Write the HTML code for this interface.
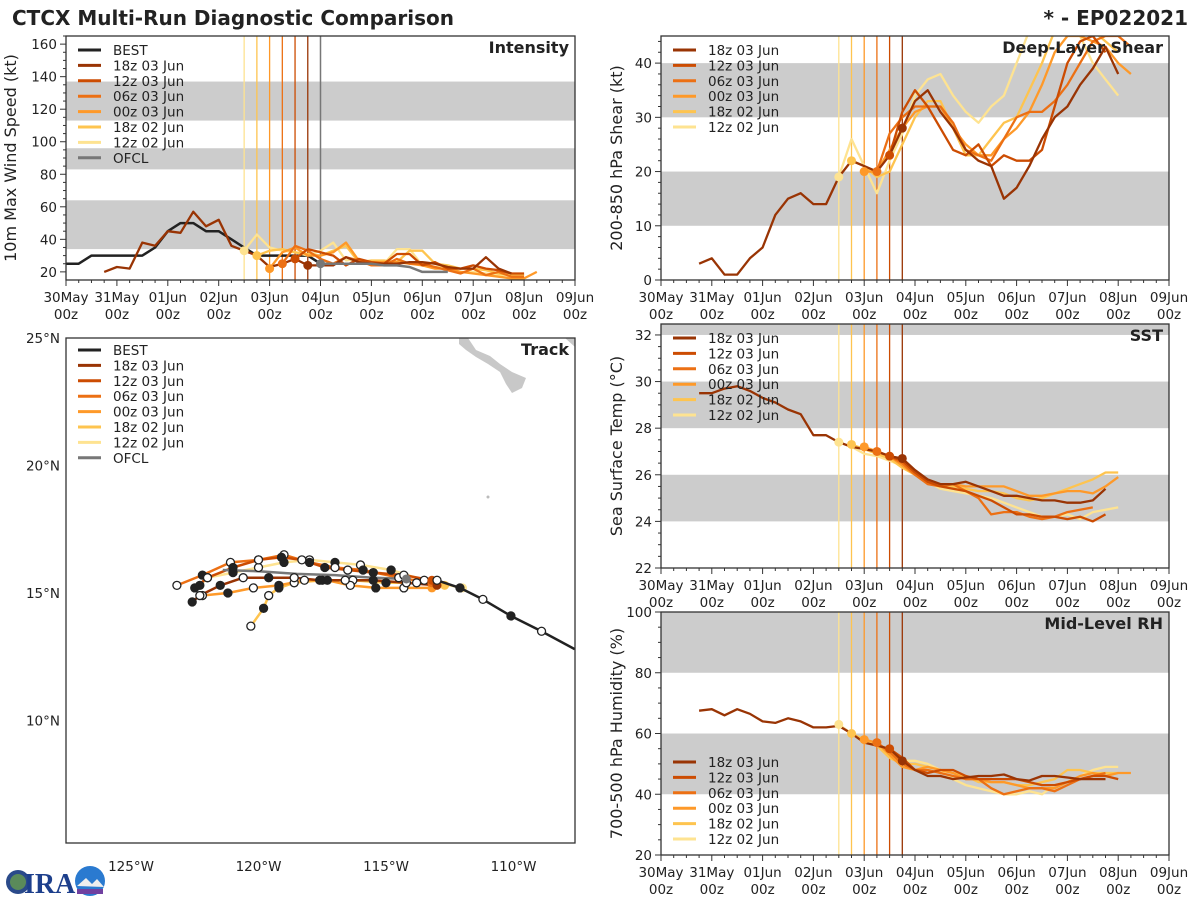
<!DOCTYPE html>
<html><head><meta charset="utf-8"><style>
html,body{margin:0;padding:0;background:#fff;}
svg{display:block;font-family:"DejaVu Sans","Liberation Sans",sans-serif;}
</style></head><body>
<svg id="chart" width="1200" height="900" viewBox="0 0 1200 900" xmlns="http://www.w3.org/2000/svg">
<rect width="1200" height="900" fill="#fff"/>
<text x="12" y="25" font-size="20" font-weight="bold" fill="#222">CTCX Multi-Run Diagnostic Comparison</text>
<text x="1188" y="25" font-size="20" font-weight="bold" fill="#222" text-anchor="end">* - EP022021</text>
<g id="layer"></g>
<g>
<circle cx="18" cy="882" r="12" fill="#2a4a8a"/><circle cx="18" cy="882" r="8" fill="#5a8a5a"/>
<text x="24" y="893" font-size="28" font-weight="bold" fill="#1d3f8c" font-family="Liberation Serif,serif">IRA</text>
<circle cx="90" cy="881" r="15" fill="#2a7ad0"/><path d="M77 886 L86 878 L92 884 L97 879 L104 887 Z" fill="#eee"/><rect x="77" y="889" width="26" height="5" fill="#7040a0"/>
</g>
</svg>
<script>
// ---------- data ----------
const runNames = ["18z 03 Jun","12z 03 Jun","06z 03 Jun","00z 03 Jun","18z 02 Jun","12z 02 Jun"];
const runInit = [114,108,102,96,90,84];
const dayLabels = ["30May","31May","01Jun","02Jun","03Jun","04Jun","05Jun","06Jun","07Jun","08Jun","09Jun"];
// Intensity (kt)
const bestStart = 0;
const bestVmax = [25,25,30,30,30,30,30,35,45,50,50,45,45,40,35,30,30,30,30,30,25];
const ofclStart = 120;
const ofclVmax = [25,25,25,25,25,24,24,23,20,20,20];
const vmaxStart = [18,108,102,96,90,84];
const vmax18z03 = [20,23,22,38,36,45,44,57,48,52,36,33,30,23,25,28,24,24,24,29,26,25,25,25,26,26,25,23,22,22,29,22,19];
const vmax12z03 = [28,34,32,30,24,28,26,25,31,31,24,26,22,22,24,22,21,19,19];
const vmax06z03 = [25,36,33,28,25,29,27,24,24,28,25,25,23,21,19,22,18,20,17,17];
const vmax00z03 = [22,32,35,30,30,32,38,27,26,26,26,25,24,22,22,20,19,18,17,16,16,20];
const vmax18z02 = [30,33,34,32,31,30,33,36,26,27,27,26,33,33,25,24,22,22,21,19,18,18];
const vmax12z02 = [33,43,35,33,32,30,33,38,27,28,25,25,34,34,24,23,23,20,20,19,18,18];
// Shear (kt)
const shearStart = [18,108,102,96,90,84];
const shear18z03 = [3,4,1,1,4,6,12,15,16,14,14,19,22,21,20,23,28,33,35,31,28,24,22,21,15,17,21,26,30,32,36,39,43,38];
const shear12z03 = [23,31,35,32,28,24,23,25,21,23,22,22,24,32,40,44,45,42];
const shear06z03 = [20,27,30,32,32,32,29,24,23,22,26,30,31,31,33,36,40,44,45,45,43];
const shear00z03 = [20,20,24,28,31,32,32,28,25,23,23,26,28,31,36,42,45,45,44,43,40,38];
const shear18z02 = [22,21,19,20,25,30,33,33,28,23,23,26,29,30,35,40,46,48,48,46,44,42];
const shear12z02 = [19,26,21,16,22,27,34,37,38,34,31,29,32,34,40,46,48,50,48,45,40,37,34];
// SST (C)
const sstStart = [18,108,102,96,90,84];
const sst18z03 = [29.5,29.5,29.7,29.8,29.6,29.3,29.1,28.8,28.6,27.7,27.7,27.4,27.2,27.1,27.0,26.8,26.7,26.2,25.8,25.6,25.6,25.7,25.5,25.3,25.1,25.1,25.0,24.9,24.9,24.8,24.8,24.9,25.4];
const sst12z03 = [26.8,26.6,26.1,25.7,25.5,25.4,25.3,25.1,24.9,24.6,24.3,24.3,24.2,24.2,24.1,24.2,24.0,24.3];
const sst06z03 = [27.0,26.8,26.5,26.0,25.6,25.5,25.6,25.3,25.0,24.3,24.4,24.4,24.2,24.1,24.2,24.4,24.5,24.6];
const sst00z03 = [27.2,27.0,26.8,26.4,26.0,25.7,25.6,25.6,25.5,25.5,25.5,25.5,25.3,25.1,25.1,25.2,25.3,25.3,25.2,25.5,25.9];
const sst18z02 = [27.3,27.1,26.9,26.7,26.3,26.0,25.7,25.6,25.5,25.4,25.3,25.3,25.2,25.0,24.9,25.0,25.2,25.4,25.6,25.8,26.1,26.1];
const sst12z02 = [27.4,27.2,26.9,26.8,26.6,26.4,26.1,25.7,25.4,25.3,25.2,25.1,25.0,24.8,24.6,24.4,24.2,24.2,24.3,24.1,24.4,24.5,24.6];
// RH (%)
const rhStart = [18,108,102,96,90,84];
const rh18z03 = [67.5,68,66,68,66.5,64,63.5,65,64,62,62,62.5,60,57,56,55,51,48,46,46,45,45.5,46,46,46.5,45,44.5,46,46,45.5,45,45,45];
const rh12z03 = [55,52,48,47,48,48,46,45,45,45,45,44,43,43,44,45,46,46,45];
const rh06z03 = [57,54,50,48,48,47,46,45,45,42,40,41,42,42,41,43,45,46,47];
const rh00z03 = [58,57,53,49,48,49,48,47,45,45,44,44,43,42,42,42,44,46,47,46,47,47];
const rh18z02 = [60,58,56,52,50,50,49,48,47,46,44,44,44,43,43,44,45,48,48,47,47,47];
const rh12z02 = [63,60,57,56,53,51,51,50,48,45,43,42,41,40,40,41,40,43,44,46,48,49,49];
// Track (deg W, deg N)
const bestLon = [107.6,108.9,110.1,111.2,112.1,113.0];
const bestLat = [12.8,13.5,14.1,14.75,15.2,15.5];
const ofclLon = [114.2,115.5,117.0,118.5,120.0,121.4];
const ofclLat = [15.55,15.6,15.7,15.75,15.85,15.9];
const trk18z03Lon = [113.0,114.2,115.5,116.6,117.6,118.6,119.6,120.6,121.5,122.3,122.6];
const trk18z03Lat = [15.3,15.4,15.5,15.5,15.5,15.6,15.6,15.6,15.3,14.9,14.65];
const trk12z03Lon = [113.2,114.3,115.5,116.5,117.4,118.3,119.1,120.0,121.0,122.0,122.5];
const trk12z03Lat = [15.5,15.7,15.8,15.9,16.0,16.3,16.4,16.3,16.0,15.6,15.2];
const trk06z03Lon = [113.2,114.5,115.9,117.0,118.0,119.0,120.0,121.1,122.2,123.2];
const trk06z03Lat = [15.4,15.6,15.9,16.0,16.2,16.5,16.3,16.2,15.7,15.3];
const trk00z03Lon = [113.2,114.3,115.4,116.4,117.3,118.2,119.2,120.2,121.2,122.2];
const trk00z03Lat = [15.2,15.2,15.2,15.3,15.5,15.5,15.3,15.2,15.0,14.9];
const trk18z02Lon = [112.7,113.8,115.0,116.3,117.5,118.6,119.2,119.6,119.8,120.3];
const trk18z02Lat = [15.3,15.4,15.4,15.5,15.5,15.4,15.2,14.9,14.4,13.7];
const trk12z02Lon = [112.0,113.5,114.8,116.0,117.0,118.0,119.0,120.0,121.0,122.0,122.3];
const trk12z02Lat = [15.2,15.5,15.9,16.1,16.2,16.3,16.2,16.0,15.8,15.6,15.3];

const runColors = ["#993404","#cc4c02","#ec7014","#fe9929","#fec44f","#fee391"];
const NS = "http://www.w3.org/2000/svg";
const layer = document.getElementById("layer");
function mk(tag, attrs, parent){
  const e = document.createElementNS(NS, tag);
  for (const k in attrs) e.setAttribute(k, attrs[k]);
  (parent||layer).appendChild(e);
  return e;
}
function txt(s, attrs, parent){ const e = mk("text", attrs, parent); e.textContent = s; return e; }

function timePanel(p){
  const g = mk("g", {});
  
  
  const xs = h => p.x0 + h/240*(p.x1-p.x0);
  const ys = v => p.y1 - (v-p.ymin)/(p.ymax-p.ymin)*(p.y1-p.y0);
  const cy = v => Math.max(p.y0, Math.min(p.y1, ys(v)));
  const defs = mk("clipPath", {id:"clip-"+p.name}, g);
  mk("rect", {x:p.x0, y:p.y0, width:p.x1-p.x0, height:p.y1-p.y0}, defs);
  p.bands.forEach(b => {
    const r = mk("rect", {x:p.x0, y:cy(b[1]), width:p.x1-p.x0, height:cy(b[0])-cy(b[1]), fill:"#cccccc"}, g);
    
    
  });
  runInit.slice().reverse().forEach((h,i) => {
    const c = runColors[5-i];
    const l = mk("line", {x1:xs(h), x2:xs(h), y1:p.y0, y2:p.y1, stroke:c, "stroke-width":1.3}, g);
    
    
  });
  if (p.ofcl){
    const l = mk("line", {x1:xs(120), x2:xs(120), y1:p.y0, y2:p.y1, stroke:"#777", "stroke-width":1.5}, g);
    
    
  }
  const sg = mk("g", {"clip-path":"url(#clip-"+p.name+")"}, g);
  function series(start, vals, color, w, nm){
    const pts = vals.map((v,i)=> xs(start+i*6).toFixed(1)+","+ys(v).toFixed(1)).join(" ");
    const pl = mk("polyline", {points:pts, fill:"none", stroke:color, "stroke-width":w, "stroke-linejoin":"round"}, sg);
    
    
  }
  if (p.best) series(bestStart, bestVmax, "#222", 2.5, "best-line");
  for (let i=5;i>=0;i--) series(p.starts[i], p.data[i], runColors[i], 2.3, "run-"+runNames[i].replace(/ /g,"").toLowerCase()+"-line");
  if (p.ofcl) series(ofclStart, ofclVmax, "#777", 2.5, "ofcl-line");
  for (let i=5;i>=0;i--){
    const h = runInit[i], idx = (h - p.starts[i])/6;
    const v = p.data[i][idx];
    const c = mk("circle", {cx:xs(h), cy:ys(v), r:4.5, fill:runColors[i]}, sg);
    
    
  }
  if (p.ofcl){
    const c = mk("circle", {cx:xs(120), cy:ys(ofclVmax[0]), r:4.5, fill:"#777"}, sg);
    
    
  }
  mk("rect", {x:p.x0, y:p.y0, width:p.x1-p.x0, height:p.y1-p.y0, fill:"none", stroke:"#333", "stroke-width":1.3}, g);
  for (let h=0; h<=240; h+=6){
    const x = xs(h), major = h%24===0;
    mk("line", {x1:x, x2:x, y1:p.y1, y2:p.y1+(major?6:3), stroke:"#333", "stroke-width":1}, g);
  }
  dayLabels.forEach((d,i)=>{
    const x = xs(i*24);
    const t1 = txt(d, {x:x, y:p.y1+22, "font-size":13.5, "text-anchor":"middle", fill:"#222"}, g);
    
    
    const t2 = txt("00z", {x:x, y:p.y1+39, "font-size":13.5, "text-anchor":"middle", fill:"#222"}, g);
    
    
  });
  for (let v=p.ymin0; v<=p.ymax; v+=p.minor){
    const y = ys(v), major = Math.abs((v - p.ymin0) % p.major) < 1e-6;
    if (y < p.y0-0.5 || y > p.y1+0.5) continue;
    mk("line", {x1:p.x0, x2:p.x0-(major?6:3), y1:y, y2:y, stroke:"#333", "stroke-width":1}, g);
    if (major){
      const t = txt(String(v), {x:p.x0-9, y:y+5, "font-size":13.5, "text-anchor":"end", fill:"#222"}, g);
      
      
    }
  }
  const yl = txt(p.ylabel, {x:0, y:0, "font-size":16, "text-anchor":"middle", fill:"#222", transform:"translate("+p.ylx+","+((p.y0+p.y1)/2)+") rotate(-90)"}, g);
  
  
  const tt = txt(p.title, {x:p.x1-6, y:p.y0+17, "font-size":16, "font-weight":"bold", "text-anchor":"end", fill:"#222"}, g);
  
  
  legend(g, p.x0+12, p.legY, p.legendBest, p.legendOfcl);
}
function legend(g, x, y, withBest, withOfcl){
  const lg = mk("g", {}, g);
  
  
  const items = [];
  if (withBest) items.push(["BEST","#222"]);
  runNames.forEach((n,i)=>items.push([n, runColors[i]]));
  if (withOfcl) items.push(["OFCL","#777"]);
  items.forEach((it,i)=>{
    const yy = y + i*15.4;
    const e = mk("g", {}, lg);
    
    
    mk("line", {x1:x, x2:x+23, y1:yy, y2:yy, stroke:it[1], "stroke-width":3}, e);
    txt(it[0], {x:x+35, y:yy+5, "font-size":13.5, fill:"#222"}, e);
  });
}

timePanel({name:"intensity", x0:66,x1:575,y0:36,y1:280, ymin:15,ymax:165, ymin0:20, major:20, minor:5,
  bands:[[34,64],[83,96],[113,137]], best:true, ofcl:true, legendBest:true, legendOfcl:true, legY:50,
  starts:vmaxStart, data:[vmax18z03,vmax12z03,vmax06z03,vmax00z03,vmax18z02,vmax12z02],
  ylabel:"10m Max Wind Speed (kt)", ylx:16, title:"Intensity"});
timePanel({name:"shear", x0:661,x1:1169,y0:36,y1:280, ymin:0,ymax:45, ymin0:0, major:10, minor:2,
  bands:[[10,20],[30,40]], legY:50, starts:shearStart,
  data:[shear18z03,shear12z03,shear06z03,shear00z03,shear18z02,shear12z02],
  ylabel:"200-850 hPa Shear (kt)", ylx:622, title:"Deep-Layer Shear"});
timePanel({name:"sst", x0:661,x1:1169,y0:324,y1:568, ymin:22,ymax:32.47, ymin0:22, major:2, minor:0.5,
  bands:[[24,26],[28,30],[32,33]], legY:338, starts:sstStart,
  data:[sst18z03,sst12z03,sst06z03,sst00z03,sst18z02,sst12z02],
  ylabel:"Sea Surface Temp (°C)", ylx:622, title:"SST"});
timePanel({name:"rh", x0:661,x1:1169,y0:612,y1:855, ymin:20,ymax:100, ymin0:20, major:20, minor:5,
  bands:[[40,60],[80,100]], legY:762, starts:rhStart,
  data:[rh18z03,rh12z03,rh06z03,rh00z03,rh18z02,rh12z02],
  ylabel:"700-500 hPa Humidity (%)", ylx:622, title:"Mid-Level RH"});

// ---------- track panel ----------
(function(){
  const x0=66,x1=575,y0=338,y1=843;
  const lx = lon => 131 + (125-lon)*25.5;
  const ly = lat => 593 - (lat-15)*25.5;
  const g = mk("g", {});
  
  
  const cp = mk("clipPath", {id:"clip-track"}, g);
  mk("rect", {x:x0,y:y0,width:x1-x0,height:y1-y0}, cp);
  const sg = mk("g", {"clip-path":"url(#clip-track)"}, g);
  const land = mk("path", {d:"M459 338 L468 338 L476 350 L490 356 L500 364 L512 372 L526 378 L522 388 L512 393 L506 384 L500 372 L488 364 L476 357 L466 350 L459 344 Z M565 338 L575 338 L575 347 Z", fill:"#c8c8c8"}, sg);
  
  
  mk("circle", {cx:488, cy:497, r:1.5, fill:"#bbb"}, sg);
  function track(lons, lats, color, nm, dots){
    const pts = lons.map((v,i)=>lx(v).toFixed(1)+","+ly(lats[i]).toFixed(1)).join(" ");
    const pl = mk("polyline", {points:pts, fill:"none", stroke:color, "stroke-width":2.5, "stroke-linejoin":"round"}, sg);
    
    
    if (dots){
      lons.forEach((v,i)=>{
        if (i===0) return;
        const c = mk("circle", {cx:lx(v), cy:ly(lats[i]), r:4, fill:(i%2? "#fff":"#222"), stroke:"#222", "stroke-width":1.3}, sg);
        
        
      });
    }
  }
  const tl = [[trk18z03Lon,trk18z03Lat],[trk12z03Lon,trk12z03Lat],[trk06z03Lon,trk06z03Lat],[trk00z03Lon,trk00z03Lat],[trk18z02Lon,trk18z02Lat],[trk12z02Lon,trk12z02Lat]];
  for (let i=5;i>=0;i--) track(tl[i][0], tl[i][1], runColors[i], "track-"+runNames[i].replace(/ /g,"").toLowerCase(), false);
  track(ofclLon, ofclLat, "#777", "track-ofcl", false);
  for (let i=5;i>=0;i--) tl[i][0].forEach((v,j)=>{
    if (j===0){ const c = mk("circle",{cx:lx(v),cy:ly(tl[i][1][0]),r:4.5,fill:runColors[i]},sg);
        return; }
    const c = mk("circle", {cx:lx(v), cy:ly(tl[i][1][j]), r:4, fill:(j%2? "#fff":"#222"), stroke:"#222", "stroke-width":1.3}, sg);
    
    
  });
  track(bestLon, bestLat, "#222", "track-best", true);
  mk("circle",{cx:lx(ofclLon[0]),cy:ly(ofclLat[0]),r:4.5,fill:"#777"},sg);
  mk("rect", {x:x0,y:y0,width:x1-x0,height:y1-y0,fill:"none",stroke:"#333","stroke-width":1.3}, g);
  [25,20,15,10].forEach(l=>{
    const t = txt(l+"°N", {x:60, y:ly(l)+5, "font-size":13.5, "text-anchor":"end", fill:"#222"}, g);
    
    
  });
  [125,120,115,110].forEach(l=>{
    const t = txt(l+"°W", {x:lx(l), y:871, "font-size":13.5, "text-anchor":"middle", fill:"#222"}, g);
    
    
  });
  const tt = txt("Track", {x:569, y:355, "font-size":16, "font-weight":"bold", "text-anchor":"end", fill:"#222"}, g);
  
  
  legend(g, 78, 350, true, true);
})();
</script>
</body></html>
